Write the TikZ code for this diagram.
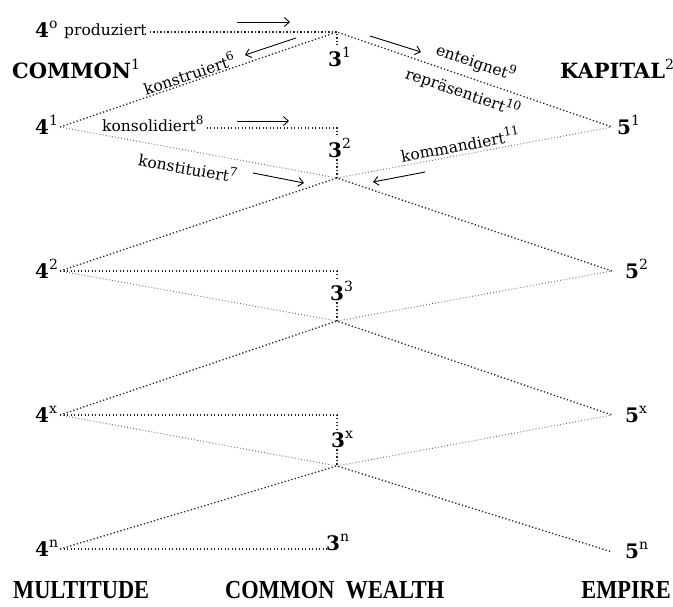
\documentclass[tikz,border=0pt]{standalone}
\usepackage{fontspec}
\setmainfont{DejaVu Serif}
\newfontfamily\botfont{Liberation Serif}
\usetikzlibrary{arrows.meta}
\newcommand\suplab[1]{\raisebox{8.5pt}{\fontsize{14}{14}\selectfont\mdseries #1}}
\newcommand\numlab[2]{{\fontsize{20}{20}\selectfont\bfseries #1}\suplab{#2}}
\newcommand\wordsup[2]{{\fontsize{15.5}{15.5}\selectfont #1}\raisebox{6.5pt}{\fontsize{12}{12}\selectfont #2}}
\newcommand\botlab[1]{\scalebox{0.86}[1]{\botfont\bfseries\fontsize{26}{26}\selectfont #1}}
\begin{document}
\begin{tikzpicture}[x=1pt,y=-1pt,
  dotb/.style={line width=1.3pt, dash pattern=on 1.3pt off 2.2pt, black!85},
  dott/.style={line width=0.9pt, dash pattern=on 0.9pt off 2.2pt, black!60},
  arr/.style={line width=0.9pt, -{Straight Barb[length=5pt,width=9pt]}},
  lab/.style={inner sep=0pt, anchor=base west},
  rlab/.style={inner sep=0pt}]
\useasboundingbox (0,0) rectangle (673,606);
% vertices
\coordinate (T0) at (337,32);
\coordinate (L1) at (60,127); \coordinate (R1) at (612,127);
\coordinate (X1) at (337,178);
\coordinate (L2) at (60,271); \coordinate (R2) at (612,271);
\coordinate (X2) at (337,321);
\coordinate (L3) at (60,415); \coordinate (R3) at (612,415);
\coordinate (X3) at (337,466);
\coordinate (L4) at (60,549); \coordinate (R4) at (612,552);
\coordinate (H1) at (337,128); \coordinate (H2) at (337,271);
\coordinate (H3) at (337,415); \coordinate (H4) at (328,549);
% labels
\node[lab] (n40) at (35,37) {\numlab{4}{o}};
\node[lab] (prod) at (64,35) {\fontsize{15.5}{15.5}\selectfont produziert};
\node[lab] (common) at (12,78) {\fontsize{21}{21}\selectfont\bfseries COMMON\suplab{1}};
\node[lab] (kapital) at (560,78) {\fontsize{21}{21}\selectfont\bfseries KAPITAL\suplab{2}};
\node[lab] (n41) at (35,134) {\numlab{4}{1}};
\node[lab] (n51) at (617,134) {\numlab{5}{1}};
\node[lab] (n31) at (328,66) {\numlab{3}{1}};
\node[lab] (n32) at (328,157) {\numlab{3}{2}};
\node[lab] (n33) at (330,300) {\numlab{3}{3}};
\node[lab] (n3x) at (331,447) {\numlab{3}{x}};
\node[lab] (n3n) at (326,550) {\numlab{3}{n}};
\node[lab] (n42) at (35,278) {\numlab{4}{2}};
\node[lab] (n52) at (625,278) {\numlab{5}{2}};
\node[lab] (n4x) at (35,422) {\numlab{4}{x}};
\node[lab] (n5x) at (625,422) {\numlab{5}{x}};
\node[lab] (n4n) at (35,556) {\numlab{4}{n}};
\node[lab] (n5n) at (625,558) {\numlab{5}{n}};
\node[lab] (kons) at (102,131) {\wordsup{konsolidiert}{8}};
\node[rlab, rotate=18.7] (konstr) at (189,73) {\wordsup{konstruiert}{6}};
\node[rlab, rotate=-10.4] (konsti) at (188,167) {\wordsup{konstituiert}{7}};
\node[rlab, rotate=-18.9] (entei) at (476,62) {\wordsup{enteignet}{9}};
\node[rlab, rotate=-18.9] (repr) at (463,92) {\wordsup{repräsentiert}{10}};
\node[rlab, rotate=10.4] (komm) at (460,144) {\wordsup{kommandiert}{11}};
\node[lab] (mult) at (13,598) {\botlab{MULTITUDE}};
\node[lab] (cw) at (225,598) {\botlab{COMMON\ \ WEALTH}};
\node[inner sep=0pt, anchor=base east] (emp) at (671,598) {\botlab{EMPIRE}};
% lattice
\draw[dotb] (L1) -- (T0) -- (R1);
\draw[dott] (L1) -- (X1) -- (R1);
\draw[dotb] (L2) -- (X1) -- (R2);
\draw[dott] (L2) -- (X2) -- (R2);
\draw[dotb] (L3) -- (X2) -- (R3);
\draw[dott] (L3) -- (X3) -- (R3);
\draw[dotb] (L4) -- (X3) -- (R4);
% horizontals and verticals
\draw[dotb, shorten >=2pt] ([xshift=3pt]prod.east |- T0) -- (T0) -- (T0 |- n31.north);
\draw[dotb, shorten >=2pt] ([xshift=3pt]kons.east |- H1) -- (H1) -- (H1 |- n32.north);
\draw[dotb, shorten <=2pt] (n32.south -| X1) -- (X1);
\draw[dotb, shorten >=2pt] (L2) -- (H2) -- (H2 |- n33.north);
\draw[dotb, shorten <=2pt] (n33.south -| X2) -- (X2);
\draw[dotb, shorten >=2pt] (L3) -- (H3) -- (H3 |- n3x.north);
\draw[dotb, shorten <=2pt] (n3x.south -| X3) -- (X3);
\draw[dotb] (L4) -- (H4);
% arrows
\coordinate (a1s) at (237,22); \coordinate (a1e) at (290,22);
\coordinate (a2s) at (296,38); \coordinate (a2e) at (245,55);
\coordinate (a3s) at (237,121); \coordinate (a3e) at (289,121);
\coordinate (a4s) at (253,173); \coordinate (a4e) at (304,183);
\coordinate (a5s) at (370,36); \coordinate (a5e) at (421,52);
\coordinate (a6s) at (425,172); \coordinate (a6e) at (373,182);
\draw[arr] (a1s) -- (a1e);
\draw[arr] (a2s) -- (a2e);
\draw[arr] (a3s) -- (a3e);
\draw[arr] (a4s) -- (a4e);
\draw[arr] (a5s) -- (a5e);
\draw[arr] (a6s) -- (a6e);
\end{tikzpicture}
\end{document}
